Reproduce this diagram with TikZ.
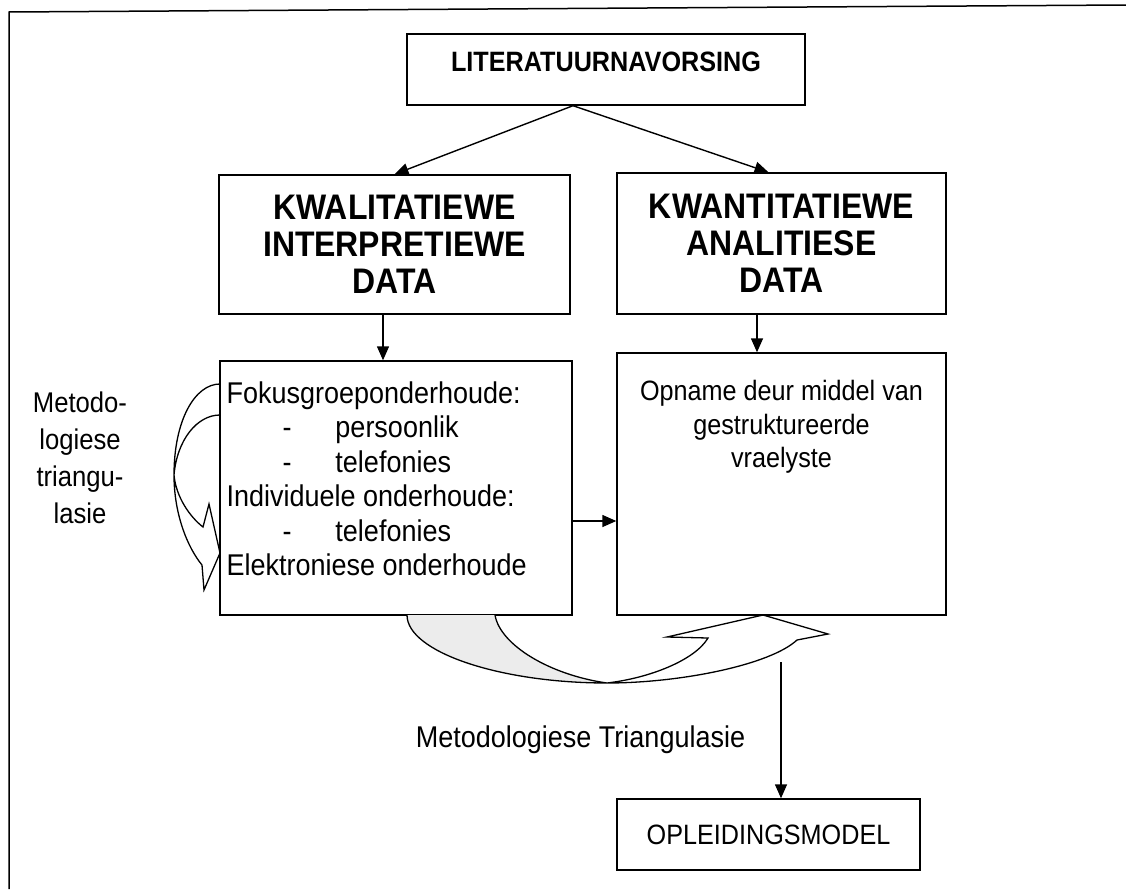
\documentclass[tikz,border=0pt]{standalone}
\usepackage{fontspec}
\setmainfont{Liberation Sans}[FakeStretch=0.9]
\usetikzlibrary{positioning,arrows.meta}

\begin{document}
\begin{tikzpicture}[x=1pt, y=-1pt,
    box/.style={rectangle, draw=black, line width=1.4pt, inner sep=7pt},
    head/.style={font=\fontsize{35.5}{37}\selectfont\bfseries, align=center},
    body/.style={font=\fontsize{30}{34.5}\selectfont},
    arr/.style={-{Triangle[length=14pt,width=12pt]}, line width=1.4pt},
    band/.style={line width=1.3pt, line join=miter}
]
\useasboundingbox (0,0) rectangle (1126,889);

% frame (only top and left survive)
\draw[line width=1.5pt] (1126,5) -- (9,12) -- (9,889);

% boxes
\node (Lit) [box, minimum width=398pt, minimum height=71pt, text depth=15pt,
    font=\fontsize{28}{32}\selectfont\bfseries] at (606,69.5) {LITERATUURNAVORSING};
\node (Kwal) [box, head, minimum width=351pt, minimum height=139pt] at (394.5,244.5)
    {KWALITATIEWE\\INTERPRETIEWE\\DATA};
\node (Kwant) [box, head, minimum width=329pt, minimum height=141pt] at (781.5,243.5)
    {KWANTITATIEWE\\ANALITIESE\\DATA};
\node (Fokus) [box, minimum width=352pt, minimum height=254pt] at (396,488) {};
\node (FokusTxt) [below right=21pt and 7pt of Fokus.north west, inner sep=0pt,
    body, align=left]
    {Fokusgroeponderhoude:\\
     \makebox[109pt][l]{\hspace{56pt}-}persoonlik\\
     \makebox[109pt][l]{\hspace{56pt}-}telefonies\\
     Individuele onderhoude:\\
     \makebox[109pt][l]{\hspace{56pt}-}telefonies\\
     Elektroniese onderhoude};
\node (Opname) [box, minimum width=329pt, minimum height=262pt] at (781.5,484) {};
\node (OpnameTxt) [below=28pt of Opname.north, inner sep=0pt, align=center,
    font=\fontsize{28}{33.5}\selectfont]
    {Opname deur middel van\\gestruktureerde\\vraelyste};
\node (Model) [box, minimum width=303pt, minimum height=71pt,
    font=\fontsize{28}{30}\selectfont] at (768.5,834.5) {OPLEIDINGSMODEL};

% loose labels
\node (Metodo) [align=center, font=\fontsize{28.5}{37}\selectfont] at (80,457.5)
    {Metodo-\\logiese\\triangu-\\lasie};
\node (Tri) [font=\fontsize{30}{34}\selectfont] at (580.5,740) {Metodologiese Triangulasie};

% connectors
\coordinate (split) at ([xshift=-33pt]Lit.south);
\draw[arr] (split) -- (Kwal.north);
\draw[arr] (split) -- ([xshift=-13pt]Kwant.north);
\draw[arr] ([xshift=-11.5pt]Kwal.south) -- ([xshift=-13pt]Fokus.north);
\draw[arr] ([xshift=-24.5pt]Kwant.south) -- ([xshift=-24.5pt]Opname.north);
\coordinate (h1) at ([yshift=-33pt]Fokus.east);
\draw[arr] (h1) -- (h1 -| Opname.west);
\coordinate (mt) at (781,662);
\draw[arr] (mt) -- (mt |- Model.north);

% curved arrow at the left
\draw[band] (220,384) .. controls (195,384) and (174,420) .. (174,475)
    .. controls (174,515) and (188,548) .. (202,565) -- (204,590) -- (220,553)
    -- (209,504) -- (203,527)
    .. controls (190,517) and (176,497) .. (174,475)
    .. controls (177,440) and (197,415) .. (220,415);

% curved arrow at the bottom
\fill[gray!15] (407,615) .. controls (407,652) and (500,683) .. (607,683)
    .. controls (550,675) and (500,645) .. (495,615) -- cycle;
\draw[band] (407,615) .. controls (407,652) and (500,683) .. (607,683)
    .. controls (680,683) and (770,665) .. (797,640) -- (828,634) -- (763,615)
    -- (667,637) -- (708,638)
    .. controls (695,660) and (650,678) .. (607,683)
    .. controls (550,675) and (500,645) .. (495,615);

\end{tikzpicture}
\end{document}
